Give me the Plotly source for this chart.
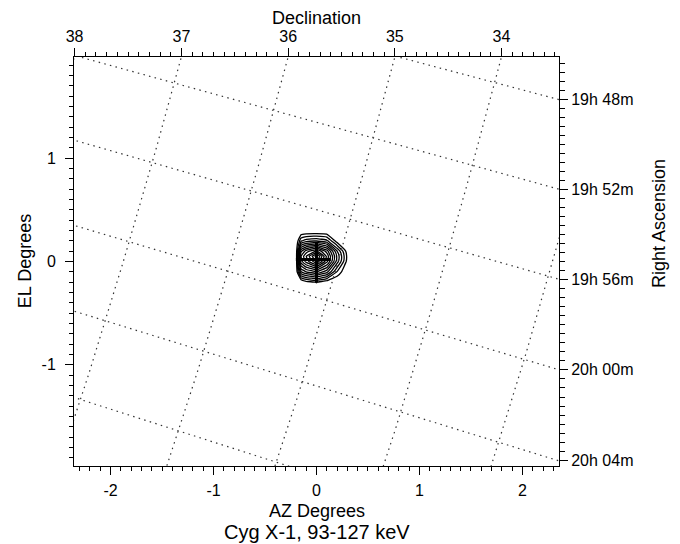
import numpy as np
import plotly.graph_objects as go

# ---------------- data ----------------
# Source position (Cyg X-1) and field roll angle
RA0_DEG = 299.5903
DEC0_DEG = 35.2017
ROLL_DEG = 16.3

AZ_RANGE = [-2.355, 2.355]
EL_RANGE = [-1.98, 1.98]

az_tick_vals = [-2, -1, 0, 1, 2]
az_tick_text = ["-2", "-1", "0", "1", "2"]
el_tick_vals = [-1, 0, 1]
el_tick_text = ["-1", "0", "1"]

dec_major = [38, 37, 36, 35, 34]
dec_labels = ["38", "37", "36", "35", "34"]
ra_major_deg = [297, 298, 299, 300, 301]
ra_labels = ["19h 48m", "19h 52m", "19h 56m", "20h 00m", "20h 04m"]

grid_dec = [31, 32, 33, 34, 35, 36, 37, 38, 39, 40]
grid_ra = [293, 294, 295, 296, 297, 298, 299, 300, 301, 302, 303, 304, 305, 306]

# significance map around source (AZ/EL degrees)
contour_az = [-0.30, -0.20, -0.15, -0.10, 0.0, 0.10, 0.20, 0.30, 0.40]
contour_el = [-0.30, -0.20, -0.10, 0.0, 0.05, 0.10, 0.20, 0.30]
contour_z = [
    [0, 0, 0.00, 0.00, 0.00, 0.00, 0.00, 0.00, 0],
    [0, 0, 0.00, 0.05, 0.085, 0.03, 0.00, 0.00, 0],
    [0, 0, 0.34, 0.41, 0.47, 0.37, 0.14, 0.00, 0],
    [0, 0, 0.58, 0.70, 0.86, 0.63, 0.31, 0.05, 0],
    [0, 0, 0.61, 0.74, 0.97, 0.66, 0.33, 0.06, 0],
    [0, 0, 0.53, 0.64, 0.75, 0.58, 0.28, 0.04, 0],
    [0, 0, 0.20, 0.25, 0.27, 0.23, 0.04, 0.00, 0],
    [0, 0, 0.00, 0.00, 0.00, 0.00, 0.00, 0.00, 0],
]
contour_levels = dict(start=0.08, end=0.94, size=0.066)

# source position marker / error cross
src_az = [0.0]
src_el = [0.02]
src_err_az_minus = [0.20]
src_err_az_plus = [0.14]
src_err_el_minus = [0.22]
src_err_el_plus = [0.16]

# ---------------- projection helpers ----------------
a0 = np.radians(RA0_DEG)
d0 = np.radians(DEC0_DEG)
s_r = np.sin(np.radians(ROLL_DEG))
c_r = np.cos(np.radians(ROLL_DEG))


def sky_to_azel(ra_deg, dec_deg):
    a = np.radians(np.asarray(ra_deg, float))
    d = np.radians(np.asarray(dec_deg, float))
    cosc = np.sin(d0) * np.sin(d) + np.cos(d0) * np.cos(d) * np.cos(a - a0)
    xi = np.cos(d) * np.sin(a - a0) / cosc
    eta = (np.cos(d0) * np.sin(d) - np.sin(d0) * np.cos(d) * np.cos(a - a0)) / cosc
    xi, eta = np.degrees(xi), np.degrees(eta)
    az = -xi * s_r - eta * c_r
    el = -xi * c_r + eta * s_r
    return az, el


def azel_to_sky(az, el):
    az = np.asarray(az, float)
    el = np.asarray(el, float)
    xi = np.radians(-az * s_r - el * c_r)
    eta = np.radians(-az * c_r + el * s_r)
    D = np.cos(d0) - eta * np.sin(d0)
    a = a0 + np.arctan2(xi, D)
    d = np.arctan2(np.sin(d0) + eta * np.cos(d0), np.sqrt(xi ** 2 + D ** 2))
    return np.degrees(a), np.degrees(d)


# ---------------- grid lines ----------------
gx, gy = [], []
ra_samp = np.linspace(min(grid_ra), max(grid_ra), 300)
for dv in grid_dec:
    ax_, ay_ = sky_to_azel(ra_samp, np.full_like(ra_samp, dv))
    gx += list(ax_) + [None]
    gy += list(ay_) + [None]
dec_samp = np.linspace(min(grid_dec), max(grid_dec), 300)
for rv in grid_ra:
    ax_, ay_ = sky_to_azel(np.full_like(dec_samp, rv), dec_samp)
    gx += list(ax_) + [None]
    gy += list(ay_) + [None]

# ---------------- top / right axis tick positions ----------------
az_s = np.linspace(-4, 4, 4001)
_, dec_top = azel_to_sky(az_s, np.full_like(az_s, EL_RANGE[1]))


def dec_to_az(v):
    return np.interp(v, dec_top[::-1], az_s[::-1])


el_s = np.linspace(-4, 4, 4001)
ra_right, _ = azel_to_sky(np.full_like(el_s, AZ_RANGE[1]), el_s)


def ra_to_el(v):
    return np.interp(v, ra_right[::-1], el_s[::-1])


top_major = [float(dec_to_az(v)) for v in dec_major]
dec_minor_vals = np.round(np.arange(33.0, 38.51, 0.1), 2)
top_minor = [float(dec_to_az(v)) for v in dec_minor_vals]
top_minor = [v for v in top_minor if AZ_RANGE[0] - 1e-6 <= v <= AZ_RANGE[1] + 1e-6]

right_major = [float(ra_to_el(v)) for v in ra_major_deg]
ra_minor_vals = np.round(np.arange(296.0, 302.01, 0.1), 2)
right_minor = [float(ra_to_el(v)) for v in ra_minor_vals]
right_minor = [v for v in right_minor if EL_RANGE[0] - 1e-6 <= v <= EL_RANGE[1] + 1e-6]

az_minor = [float(v) for v in np.round(np.arange(-2.3, 2.31, 0.1), 2)]
el_minor = [float(v) for v in np.round(np.arange(-1.9, 1.91, 0.1), 2)]

# ---------------- figure ----------------
FONT = "Liberation Sans, Arial, Helvetica, sans-serif"
fig = go.Figure()

fig.add_trace(go.Scatter(
    x=gx, y=gy, mode="lines",
    line=dict(color="#333333", width=1.2, dash="1.5px,4.3px"),
    hoverinfo="skip", showlegend=False,
))

fig.add_trace(go.Contour(
    x=contour_az, y=contour_el, z=contour_z,
    contours=dict(coloring="lines", start=contour_levels["start"],
                  end=contour_levels["end"], size=contour_levels["size"]),
    colorscale=[[0, "black"], [1, "black"]],
    line=dict(width=1.3, smoothing=0.3),
    showscale=False, hoverinfo="skip",
))

fig.add_trace(go.Scatter(
    x=src_az, y=src_el, mode="markers",
    marker=dict(size=1, color="black"),
    error_x=dict(type="data", symmetric=False, array=src_err_az_plus,
                 arrayminus=src_err_az_minus, color="black", thickness=3, width=0),
    error_y=dict(type="data", symmetric=False, array=src_err_el_plus,
                 arrayminus=src_err_el_minus, color="black", thickness=3, width=0),
    hoverinfo="skip", showlegend=False,
))

fig.add_trace(go.Scatter(
    x=[AZ_RANGE[0]], y=[EL_RANGE[0]], xaxis="x2", yaxis="y2", mode="markers",
    marker=dict(opacity=0), hoverinfo="skip", showlegend=False,
))

axis_common = dict(
    showline=True, linecolor="black", linewidth=1, mirror=False,
    showgrid=False, zeroline=False, ticks="outside", tickcolor="black",
    tickwidth=1, ticklen=8, tickfont=dict(family=FONT, size=16, color="black"),
)

fig.update_layout(
    width=680, height=544,
    margin=dict(l=74, r=121, t=57, b=78),
    paper_bgcolor="white", plot_bgcolor="white",
    font=dict(family=FONT, color="black"),
    showlegend=False,
    xaxis=dict(range=AZ_RANGE, tickmode="array", tickvals=az_tick_vals,
               ticktext=az_tick_text, side="bottom", anchor="y",
               ticklabelstandoff=2,
               minor=dict(tickmode="array", tickvals=az_minor, ticks="outside",
                          ticklen=4, tickcolor="black", tickwidth=1, showgrid=False),
               **axis_common),
    yaxis=dict(range=EL_RANGE, tickmode="array", tickvals=el_tick_vals,
               ticktext=el_tick_text, side="left", anchor="x",
               ticklabelstandoff=6,
               minor=dict(tickmode="array", tickvals=el_minor, ticks="outside",
                          ticklen=4, tickcolor="black", tickwidth=1, showgrid=False),
               **axis_common),
    xaxis2=dict(range=AZ_RANGE, overlaying="x", side="top", anchor="y",
                tickmode="array", tickvals=top_major, ticktext=dec_labels,
                minor=dict(tickmode="array", tickvals=top_minor, ticks="outside",
                           ticklen=4, tickcolor="black", tickwidth=1, showgrid=False),
                **axis_common),
    yaxis2=dict(range=EL_RANGE, overlaying="y", side="right", anchor="x",
                tickmode="array", tickvals=right_major, ticktext=ra_labels,
                minor=dict(tickmode="array", tickvals=right_minor, ticks="outside",
                           ticklen=5, tickcolor="black", tickwidth=1, showgrid=False),
                **axis_common),
)

L, R, T, B = 74, 559, 57, 466


def px(xp):
    return (xp - L) / (R - L)


def py(yp):
    return (B - yp) / (B - T)


annos = [
    dict(text="Declination", x=px(316.7), y=py(18.5), size=18, angle=0),
    dict(text="AZ Degrees", x=px(316.7), y=py(510.5), size=18, angle=0),
    dict(text="Cyg X-1, 93-127 keV", x=px(316.7), y=py(532), size=20, angle=0),
    dict(text="EL Degrees", x=px(24.5), y=py(261.7), size=18, angle=-90),
    dict(text="Right Ascension", x=px(659), y=py(224), size=18, angle=-90),
]
for a in annos:
    fig.add_annotation(text=a["text"], x=a["x"], y=a["y"], xref="paper", yref="paper",
                       xanchor="center", yanchor="middle", showarrow=False,
                       textangle=a["angle"],
                       font=dict(family=FONT, size=a["size"], color="black"))

fig.write_html("out.html")
